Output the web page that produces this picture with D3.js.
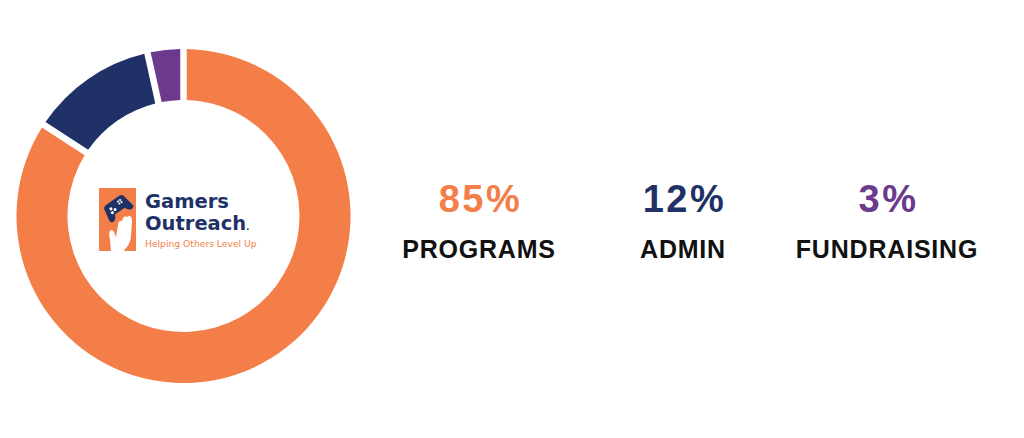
<!DOCTYPE html>
<html>
<head>
<meta charset="utf-8">
<script src="https://cdn.jsdelivr.net/npm/d3@7"></script>
<style>
  html, body { margin: 0; padding: 0; background: #fff; }
  svg { display: block; }
</style>
</head>
<body>
<svg id="chart" width="1024" height="438"></svg>
<script>
const categories = ["PROGRAMS", "ADMIN", "FUNDRAISING"];
const shares = [85, 12, 3];
const shareLabels = ["85%", "12%", "3%"];
const colors = ["#F37E47", "#1F3166", "#6B3A8D"];

const svg = d3.select("#chart");

// donut
const cx = 183.5, cy = 216;
const outerR = 167, innerR = 116;

const pie = d3.pie()
  .sort(null)
  .value(d => d)
  .padAngle(0.032);

const arc = d3.arc()
  .innerRadius(innerR)
  .outerRadius(outerR);

const donut = svg.append("g")
  .attr("transform", `translate(${cx},${cy})`);

donut.selectAll("path")
  .data(pie(shares))
  .join("path")
  .attr("d", arc)
  .attr("fill", (d, i) => colors[i]);

// logo in the middle
const logo = svg.append("g");

logo.append("rect")
  .attr("x", 99).attr("y", 188)
  .attr("width", 37).attr("height", 63)
  .attr("fill", colors[0]);

const pad = logo.append("g")
  .attr("transform", "translate(117,207) rotate(-35)");
pad.append("path")
  .attr("d", "M-12,-4 Q-12,-8 -7,-8 L7,-8 Q12,-8 12,-4 L14,6 Q15,10 11,10 Q8,10 6,5 L-6,5 Q-8,10 -11,10 Q-15,10 -14,6 Z")
  .attr("fill", colors[1]);
[[-6, -2], [-3, 1], [-7, 2]].forEach(p => {
  pad.append("circle").attr("cx", p[0]).attr("cy", p[1]).attr("r", 1.5).attr("fill", "#fff");
});
[[4, -4], [6.5, -4], [4, -1.5], [6.5, -1.5]].forEach(p => {
  pad.append("rect").attr("x", p[0] - 0.9).attr("y", p[1] - 0.9)
    .attr("width", 1.8).attr("height", 1.8).attr("fill", "#fff");
});

logo.append("path")
  .attr("d", "M111,251 L110,240 Q108,231 111,230 Q114,230 115,235 L116,237 L118,225 Q119,220 122,221 L123,218 Q125,215 127,217 L129,216 Q132,216 132,221 L131,236 Q130,245 125,249 L124,251 Z")
  .attr("fill", "#fff");

const logoText = (y, size, weight, fill, txt) => logo.append("text")
  .attr("x", 145).attr("y", y)
  .attr("font-family", "'DejaVu Sans', sans-serif")
  .attr("font-weight", weight)
  .attr("font-size", size)
  .attr("fill", fill)
  .text(txt);

logoText(208, 19.5, 700, colors[1], "Gamers");
logoText(230, 19.5, 700, colors[1], "Outreach")
  .append("tspan").attr("font-size", 8).text(".");
logoText(246.5, 9.2, 400, colors[0], "Helping Others Level Up");

// legend figures
const x = d3.scalePoint()
  .domain(categories)
  .range([479, 887]);

const legend = svg.append("g")
  .selectAll("g")
  .data(categories)
  .join("g")
  .attr("transform", d => `translate(${x(d)},0)`);

legend.append("text")
  .attr("x", 1.5)
  .attr("y", 212)
  .attr("text-anchor", "middle")
  .attr("font-family", "'Liberation Sans', Arial, sans-serif")
  .attr("font-weight", 700)
  .attr("font-size", 38)
  .attr("letter-spacing", 2.5)
  .attr("fill", (d, i) => colors[i])
  .text((d, i) => shareLabels[i]);

legend.append("text")
  .attr("y", 258)
  .attr("text-anchor", "middle")
  .attr("font-family", "'Liberation Sans', Arial, sans-serif")
  .attr("font-weight", 700)
  .attr("font-size", 25)
  .attr("letter-spacing", 0.8)
  .attr("fill", "#111")
  .text(d => d);
</script>
</body>
</html>
